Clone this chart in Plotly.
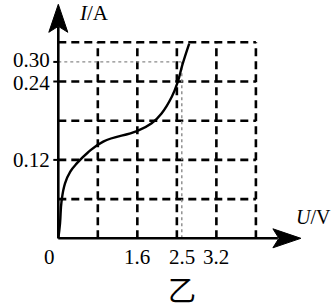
import plotly.graph_objects as go

# ---- data ----
curve_U = [0, 0.035, 0.065, 0.136, 0.243, 0.379, 0.594, 0.91, 1.59, 1.89, 2.09, 2.30, 2.42, 2.51, 2.65]
curve_I = [0, 0.023, 0.056, 0.084, 0.102, 0.115, 0.131, 0.148, 0.164, 0.176, 0.191, 0.217, 0.240, 0.265, 0.298]

grid_U = [0.8, 1.6, 2.4, 3.2, 4.0]
grid_I = [0.06, 0.12, 0.18, 0.24, 0.30]

x_tick_vals = [1.6, 2.5, 3.2]
x_tick_text = ["1.6", "2.5", "3.2"]
y_tick_vals = [0.12, 0.24, 0.27]
y_tick_text = ["0.12", "0.24", "0.30"]

mark_U = 2.5    # dotted guide
mark_I = 0.27   # dotted guide (labelled 0.30)

# ---- scale (px per unit) ----
W, H = 331, 308
ox, oy = 58.3, 238.3
sx = 49.4      # px per V
sy = 653.3     # px per A
xr = [-ox / sx, (W - ox) / sx]
yr = [-(H - oy) / sy, oy / sy]

def px_x(p):
    return p / sx

def px_y(p):
    return p / sy

fig = go.Figure()

shapes = []
dash = "8px,5px"
gl = dict(color="black", width=2.6, dash=dash)
for u in grid_U:
    shapes.append(dict(type="line", x0=u, x1=u, y0=0, y1=max(grid_I), line=gl, layer="below"))
for i in grid_I:
    shapes.append(dict(type="line", x0=0, x1=max(grid_U), y0=i, y1=i, line=gl, layer="below"))
# dotted guides
dl = dict(color="#8a8a8a", width=1.4, dash="3px,3px")
shapes.append(dict(type="line", x0=0, x1=mark_U, y0=mark_I, y1=mark_I, line=dl, layer="below"))
shapes.append(dict(type="line", x0=mark_U, x1=mark_U, y0=0, y1=mark_I, line=dl, layer="below"))

# axes
ax_line = dict(color="black", width=2.6)
x_end = max(grid_U) + px_x(22)
y_end = max(grid_I) + px_y(16)
shapes.append(dict(type="line", x0=0, x1=x_end, y0=0, y1=0, line=ax_line))
shapes.append(dict(type="line", x0=0, x1=0, y0=0, y1=y_end, line=ax_line))

def arrow_x(tip_u):
    back = tip_u - px_x(28)
    notch = tip_u - px_x(22)
    hw = px_y(9.5)
    return f"M {tip_u},0 L {back},{hw} L {notch},0 L {back},{-hw} Z"

def arrow_y(tip_i):
    back = tip_i - px_y(28)
    notch = tip_i - px_y(22)
    hw = px_x(9.5)
    return f"M 0,{tip_i} L {hw},{back} L 0,{notch} L {-hw},{back} Z"

x_tip = max(grid_U) + px_x(45)
y_tip = max(grid_I) + px_y(38)
shapes.append(dict(type="path", path=arrow_x(x_tip), fillcolor="black", line=dict(color="black", width=1)))
shapes.append(dict(type="path", path=arrow_y(y_tip), fillcolor="black", line=dict(color="black", width=1)))
for v in y_tick_vals:
    shapes.append(dict(type="line", x0=-px_x(5), x1=0, y0=v, y1=v, line=dict(color="black", width=2)))

fig.add_trace(go.Scatter(x=curve_U, y=curve_I, mode="lines",
                         line=dict(color="black", width=2.4, shape="spline", smoothing=1.3),
                         hoverinfo="skip", showlegend=False))

font = dict(family="Liberation Serif, Times New Roman, serif", size=21, color="black")
ann = []
y_shift = {"0.30": 2, "0.24": -1, "0.12": 0}
for v, t in zip(y_tick_vals, y_tick_text):
    ann.append(dict(x=-px_x(7), y=v, text=t, showarrow=False, xanchor="right", yanchor="middle",
                    yshift=y_shift[t], borderpad=0, font=font))
for v, t in zip(x_tick_vals, x_tick_text):
    ann.append(dict(x=v, y=-px_y(19), text=t, showarrow=False, xanchor="center", yanchor="middle", font=font))
ann.append(dict(x=-px_x(9), y=-px_y(19), text="0", showarrow=False, xanchor="center", yanchor="middle", font=font))
ann.append(dict(x=px_x(19), y=y_tip - px_y(9), text="<i>I</i>/A", showarrow=False, xanchor="left", yanchor="middle", font=font))
ann.append(dict(x=x_tip - px_x(7), y=px_y(21), text="<i>U</i>/V", showarrow=False, xanchor="left", yanchor="middle",
                font=dict(family="Liberation Serif, Times New Roman, serif", size=20, color="black")))
ann.append(dict(x=mark_U, y=-px_y(51), text="乙", showarrow=False, xanchor="center", yanchor="middle",
                font=dict(family="Noto Sans CJK SC", size=28, color="black")))

fig.update_layout(
    width=W, height=H,
    margin=dict(l=0, r=0, t=0, b=0),
    paper_bgcolor="white", plot_bgcolor="white",
    xaxis=dict(range=xr, visible=False, fixedrange=True),
    yaxis=dict(range=yr, visible=False, fixedrange=True),
    shapes=shapes, annotations=ann, showlegend=False,
)

fig.write_html("out.html")
